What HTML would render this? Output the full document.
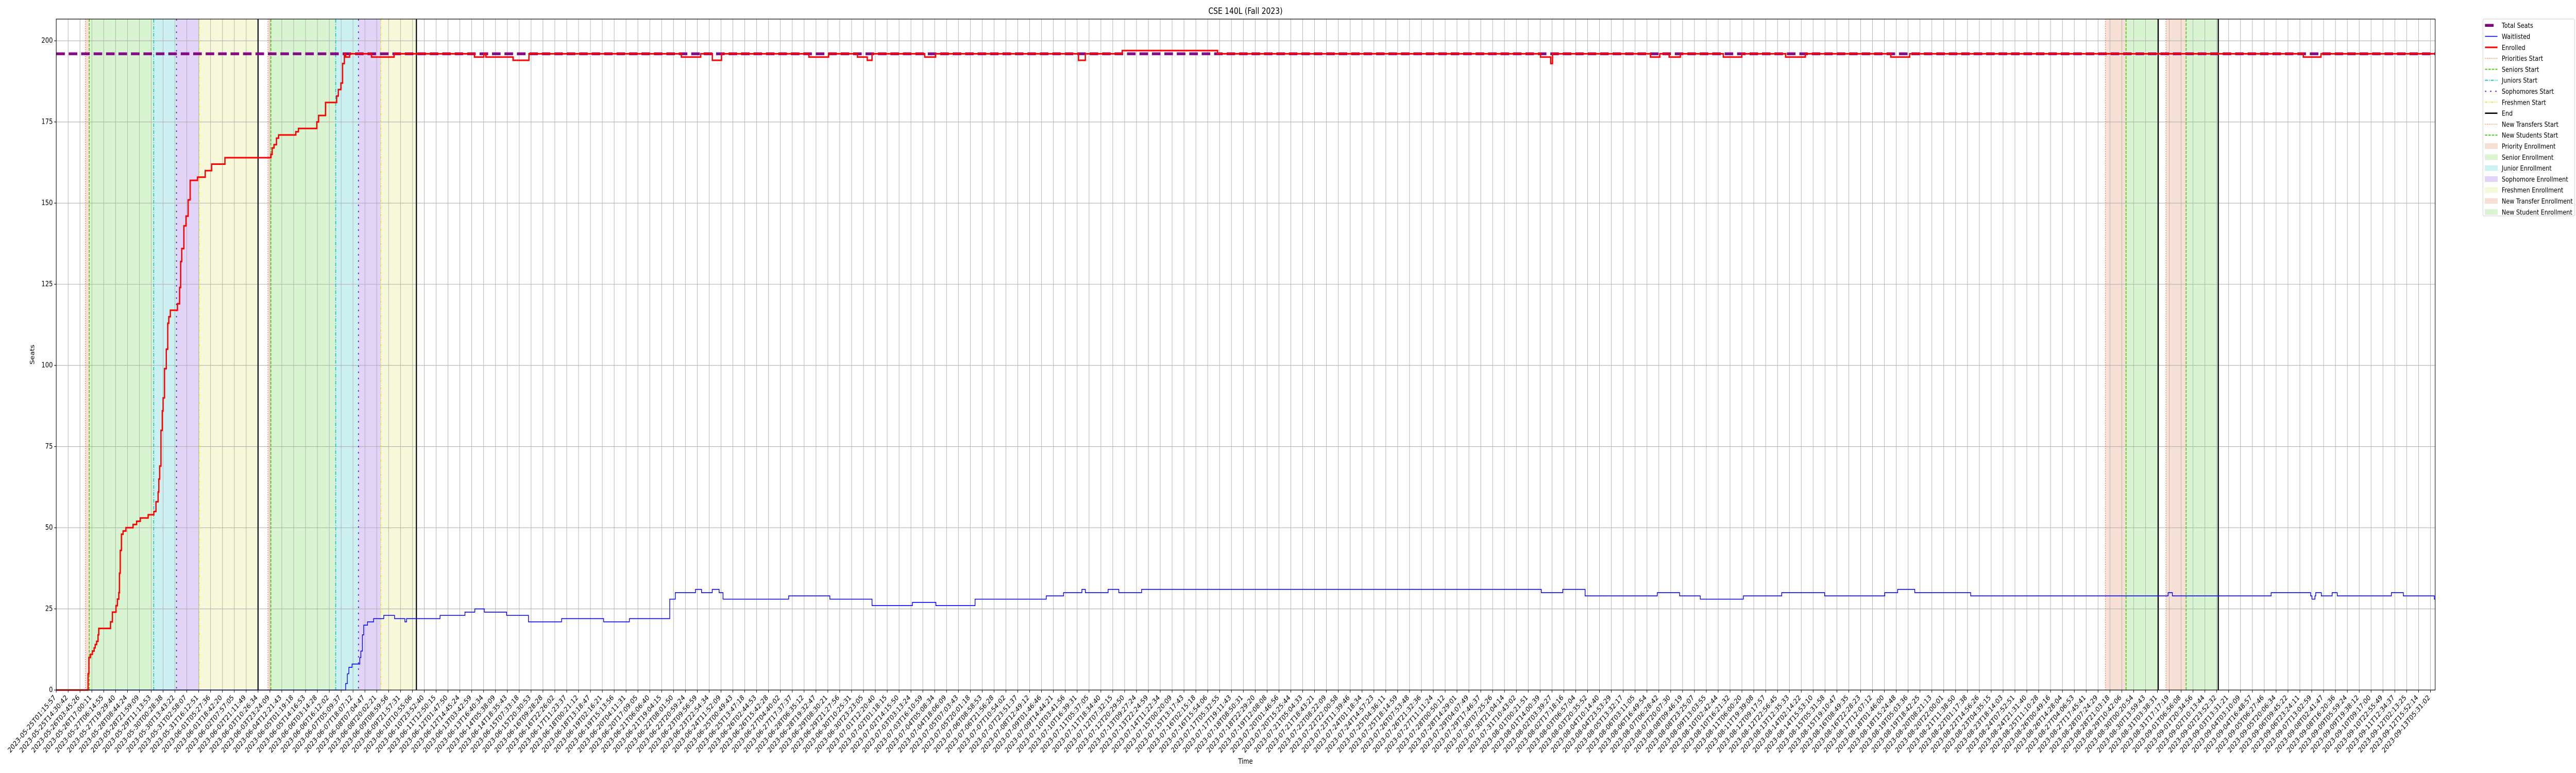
<!DOCTYPE html>
<html><head><meta charset="utf-8">
<style>
html,body{margin:0;padding:0;background:#fff;width:6000px;height:1500px;overflow:hidden;}
svg{display:block;width:100vw;height:100vh;font-family:"DejaVu Sans","Liberation Sans",sans-serif;}
</style></head>
<body>
<svg id="chart" width="6000" height="1500" viewBox="0 0 6000 1500" preserveAspectRatio="none" xmlns="http://www.w3.org/2000/svg">
<rect x="0" y="0" width="6000" height="1500" fill="#fff"/>
<g id="spans"></g>
<g id="grid"></g>
<g id="vlines"></g>
<g id="series"></g>
<g id="axes"></g>
<text x="2901" y="27" text-anchor="middle" font-size="16.7">CSE 140L (Fall 2023)</text>
<text x="2901" y="1482" text-anchor="middle" font-size="13.9">Time</text>
<text x="0" y="0" transform="translate(80,688) rotate(-90)" text-anchor="middle" font-size="13.9">Seats</text>
<g id="legend"></g>
</svg>
<script>
// ---- data ----
const totalSeats = [196];
const yTickValues = [0, 25, 50, 75, 100, 125, 150, 175, 200];
const tickAnchorIdx = [0, 17, 96, 200];
const tickAnchorTimes = ["2023-05-25T01:15:57", "2023-06-03T10:26:34", "2023-07-16T02:15:18", "2023-09-13T05:31:02"];
const tickCount = [201];

const enrolledT = [0,2.68,2.75,2.88,3.04,3.19,3.28,3.40,3.52,3.58,4.57,4.73,5.03,5.15,5.27,5.32,5.39,5.49,5.63,5.87,6.47,6.77,7.08,7.74,8.22,8.40,8.58,8.64,8.71,8.82,8.93,9.00,9.12,9.27,9.39,9.48,9.61,10.21,10.39,10.48,10.57,10.75,10.93,11.11,11.28,11.90,12.55,13.09,14.21,18.08,18.19,18.34,18.55,18.73,20.18,20.40,21.95,22.10,22.68,23.62,23.76,23.98,24.12,24.27,24.38,24.71,26.55,28.46,35.23,36.02,36.20,38.48,39.82,52.66,54.29,55.27,56.04,63.40,65.06,67.49,68.32,68.72,73.16,74.07,86.11,86.69,89.80,97.83,125.03,125.89,126.04,134.29,135.08,135.87,136.81,140.43,141.99,145.68,147.34,154.54,156.13,189.29,190.78];
const enrolledV = [0,5,10,11,12,13,14,15,17,19,21,24,26,28,30,36,43,48,49,50,51,52,53,54,55,58,61,65,69,80,86,90,99,105,113,115,117,119,124,132,136,143,146,151,157,158,160,162,164,165,167,168,170,171,172,173,175,177,181,183,185,187,193,196,195,196,195,196,195,196,195,194,196,195,196,194,196,195,196,195,194,196,195,196,194,196,197,196,195,193,196,195,196,195,196,195,196,195,196,195,196,195,196];

const waitT = [0,24.25,24.38,24.52,24.65,24.92,25.57,25.66,25.79,25.90,26.22,26.73,27.59,28.50,29.37,29.51,32.33,34.43,35.26,36.06,37.94,39.78,42.57,46.11,48.28,51.68,52.15,53.85,54.36,55.26,55.84,56.17,61.70,65.17,68.72,72.12,74.10,77.40,83.40,84.85,86.40,86.69,88.61,89.51,91.43,125.10,126.91,128.79,134.87,136.75,138.49,142.12,145.35,148.97,154.03,155.12,156.56,161.27,177.90,178.26,186.58,189.91,190.02,190.27,190.34,190.81,191.72,192.15,196.71,197.72,200.33];
const waitV = [0,0,2,5,7,8,10,12,17,20,21,22,23,22,21,22,23,24,25,24,23,21,22,21,22,28,30,31,30,31,30,28,29,28,26,27,26,28,29,30,31,30,31,30,31,30,31,29,30,29,28,29,30,29,30,31,30,29,30,29,30,29,28,29,30,29,30,29,30,29,28];

const priorityStart = [2.46, 17.83];
const seniorsStart = [2.78, 18.08];
const juniorsStart = [8.21, 23.54];
const sophomoresStart = [10.13, 25.46];
const freshmenStart = [12.04, 27.34];
const endTimes = [17.00, 30.34, 177.07, 182.13];
const newTransfersStart = [172.62, 177.72];
const newStudentsStart = [174.36, 179.42];

// ---- scales ----
const X0 = 131, X1 = 5672, Y0 = 1339, YT = 37;
const XMAX = 200.4, YMAX = 206.7;
function xs(i){ return X0 + i / XMAX * (X1 - X0); }
function ys(v){ return Y0 - v / YMAX * (Y0 - YT); }
const NS = "http://www.w3.org/2000/svg";
function mk(tag, attrs, parent){
  const e = document.createElementNS(NS, tag);
  for (const k in attrs) e.setAttribute(k, attrs[k]);
  parent.appendChild(e);
  return e;
}
const gSpans = document.getElementById('spans');
const gGrid = document.getElementById('grid');
const gV = document.getElementById('vlines');
const gS = document.getElementById('series');
const gA = document.getElementById('axes');
const gL = document.getElementById('legend');

const C = {
  priority: '#f6e0d6', senior: '#d9f4d1', junior: '#cdf0f2', soph: '#e1d4f6', fresh: '#f7f8da',
  prioLine: '#ee6a35', senLine: '#44cc11', junLine: '#10c8d0', sophLine: '#6a24d8', freshLine: '#e0e030'
};

function span(a, b, color, name){
  const r = mk('rect', {x: xs(a), y: YT, width: xs(b) - xs(a), height: Y0 - YT, fill: color}, gSpans);
  
  
}
for (let k = 0; k < 2; k++){
  span(priorityStart[k], seniorsStart[k], C.priority, 'priority-enrollment-span');
  span(seniorsStart[k], juniorsStart[k], C.senior, 'senior-enrollment-span');
  span(juniorsStart[k], sophomoresStart[k], C.junior, 'junior-enrollment-span');
  span(sophomoresStart[k], freshmenStart[k], C.soph, 'sophomore-enrollment-span');
  span(freshmenStart[k], endTimes[k], C.fresh, 'freshmen-enrollment-span');
  span(newTransfersStart[k], newStudentsStart[k], C.priority, 'new-transfer-enrollment-span');
  span(newStudentsStart[k], endTimes[k + 2], C.senior, 'new-student-enrollment-span');
}

// grid
for (let i = 0; i < tickCount[0]; i++){
  const l = mk('line', {x1: xs(i), x2: xs(i), y1: YT, y2: Y0, stroke: '#b0b0b0', 'stroke-width': 1.1}, gGrid);
  
  
}
yTickValues.forEach(v => {
  const l = mk('line', {x1: X0, x2: X1, y1: ys(v), y2: ys(v), stroke: '#b0b0b0', 'stroke-width': 1.1}, gGrid);
  
  
});

// vertical phase lines
function vline(t, color, dash, w, name){
  const a = {x1: xs(t), x2: xs(t), y1: YT, y2: Y0, stroke: color, 'stroke-width': w};
  if (dash) a['stroke-dasharray'] = dash;
  const l = mk('line', a, gV);
  
  
}
priorityStart.forEach(t => vline(t, C.prioLine, '1.5,3', 1.6, 'priorities-start-line'));
seniorsStart.forEach(t => vline(t, C.senLine, '5.5,2.5', 2, 'seniors-start-line'));
juniorsStart.forEach(t => vline(t, C.junLine, '7,2.5,1.5,2.5', 2, 'juniors-start-line'));
sophomoresStart.forEach(t => vline(t, C.sophLine, '3,9', 2.2, 'sophomores-start-line'));
freshmenStart.forEach(t => vline(t, C.freshLine, '5,2,1.5,2,1.5,2', 1.8, 'freshmen-start-line'));
newTransfersStart.forEach(t => vline(t, C.prioLine, '1.5,3', 1.6, 'new-transfers-start-line'));
newStudentsStart.forEach(t => vline(t, C.senLine, '5.5,2.5', 2, 'new-students-start-line'));
endTimes.forEach(t => vline(t, '#000', null, 2.6, 'end-line'));

// series
const ts = mk('line', {x1: X0, x2: X1, y1: ys(totalSeats[0]), y2: ys(totalSeats[0]), stroke: '#800080', 'stroke-width': 5.5, 'stroke-dasharray': '20,9', opacity: 0.95}, gS);



function stepPath(T, V){
  let d = 'M' + xs(T[0]).toFixed(2) + ' ' + ys(V[0]).toFixed(2);
  for (let i = 1; i < T.length; i++){
    d += ' H' + xs(T[i]).toFixed(2) + ' V' + ys(V[i]).toFixed(2);
  }
  d += ' H' + xs(XMAX).toFixed(2);
  return d;
}
const wl = mk('path', {d: stepPath(waitT, waitV), fill: 'none', stroke: '#0000ff', 'stroke-width': 1.6, 'stroke-linejoin': 'miter'}, gS);


const el = mk('path', {d: stepPath(enrolledT, enrolledV), fill: 'none', stroke: '#ff0000', 'stroke-width': 3, 'stroke-linejoin': 'miter'}, gS);



// axes frame
const fr = mk('rect', {x: X0, y: YT, width: X1 - X0, height: Y0 - YT, fill: 'none', stroke: '#000', 'stroke-width': 1.2}, gA);



yTickValues.forEach(v => {
  const tk = mk('line', {x1: X0 - 4.9, x2: X0, y1: ys(v), y2: ys(v), stroke: '#000', 'stroke-width': 1.1}, gA);
  
  
  const tx = mk('text', {x: X0 - 8, y: ys(v), 'text-anchor': 'end', 'dominant-baseline': 'central', 'font-size': 13.9}, gA);
  tx.textContent = String(v);
  
  
});

// x tick labels from anchors
const anchorMs = tickAnchorTimes.map(s => Date.parse(s + 'Z'));
function timeAt(i){
  let k = 0;
  while (k < tickAnchorIdx.length - 2 && i > tickAnchorIdx[k + 1]) k++;
  const f = (i - tickAnchorIdx[k]) / (tickAnchorIdx[k + 1] - tickAnchorIdx[k]);
  return anchorMs[k] + f * (anchorMs[k + 1] - anchorMs[k]);
}
function fmt(ms){
  const d = new Date(Math.round(ms / 1000) * 1000);
  const p = n => String(n).padStart(2, '0');
  return d.getUTCFullYear() + '-' + p(d.getUTCMonth() + 1) + '-' + p(d.getUTCDate()) + 'T' + p(d.getUTCHours()) + ':' + p(d.getUTCMinutes()) + ':' + p(d.getUTCSeconds());
}
for (let i = 0; i < tickCount[0]; i++){
  const x = xs(i);
  const tk = mk('line', {x1: x, x2: x, y1: Y0, y2: Y0 + 4.9, stroke: '#000', 'stroke-width': 1.1}, gA);
  
  
  const tx = mk('text', {x: 0, y: 0, dy: '0.35em', 'text-anchor': 'end', 'font-size': 13.9, transform: 'translate(' + (x - 3.5).toFixed(2) + ',1351) rotate(-45)'}, gA);
  tx.textContent = fmt(timeAt(i));
  
  
}

// legend
const lb = mk('rect', {x: 5783, y: 37, width: 214, height: 382, rx: 3, fill: '#fff', 'fill-opacity': 0.8, stroke: '#cccccc', 'stroke-width': 1}, gL);


const legendLabels = ['Total Seats','Waitlisted','Enrolled','Priorities Start','Seniors Start','Juniors Start','Sophomores Start','Freshmen Start','End','New Transfers Start','New Students Start','Priority Enrollment','Senior Enrollment','Junior Enrollment','Sophomore Enrollment','Freshmen Enrollment','New Transfer Enrollment','New Student Enrollment'];
const legendStyles = [
  {t:'line', c:'#800080', w:5.5, x2:5808},
  {t:'line', c:'#0000ff', w:1.6},
  {t:'line', c:'#ff0000', w:3},
  {t:'line', c:C.prioLine, w:1.6, d:'1.5,3'},
  {t:'line', c:C.senLine, w:2, d:'5.5,2.5'},
  {t:'line', c:C.junLine, w:2, d:'7,2.5,1.5,2.5'},
  {t:'line', c:C.sophLine, w:2.2, d:'3,9'},
  {t:'line', c:C.freshLine, w:1.8, d:'5,2,1.5,2,1.5,2'},
  {t:'line', c:'#000', w:2.6},
  {t:'line', c:C.prioLine, w:1.6, d:'1.5,3'},
  {t:'line', c:C.senLine, w:2, d:'5.5,2.5'},
  {t:'rect', c:C.priority},
  {t:'rect', c:C.senior},
  {t:'rect', c:C.junior},
  {t:'rect', c:C.soph},
  {t:'rect', c:C.fresh},
  {t:'rect', c:C.priority},
  {t:'rect', c:C.senior}
];
legendLabels.forEach((lab, i) => {
  const cy = 49.3 + i * 21.3;
  const g = mk('g', {}, gL);
  
  
  const s = legendStyles[i];
  if (s.t === 'line'){
    const a = {x1: 5788, x2: s.x2 || 5817, y1: cy, y2: cy, stroke: s.c, 'stroke-width': s.w};
    if (s.d) a['stroke-dasharray'] = s.d;
    mk('line', a, g);
  } else {
    mk('rect', {x: 5788, y: cy - 5, width: 29, height: 10, fill: s.c, stroke: s.c}, g);
  }
  const tx = mk('text', {x: 5827, y: cy, 'dominant-baseline': 'central', 'font-size': 13.5, textLength: '', }, g);
  tx.removeAttribute('textLength');
  tx.textContent = lab;
});
</script>
</body></html>
